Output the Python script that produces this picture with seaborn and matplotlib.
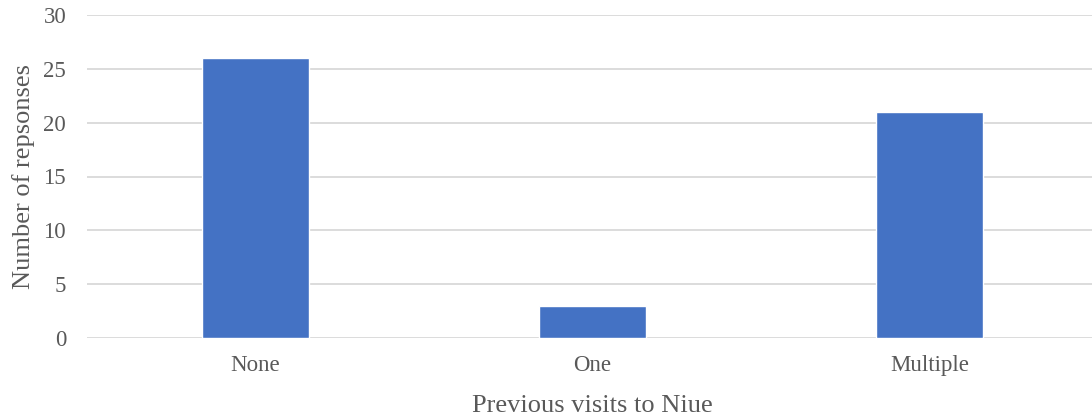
import pandas as pd
import matplotlib
matplotlib.use("Agg")
import matplotlib.pyplot as plt
import seaborn as sns

# chart values
visits = ["None", "One", "Multiple"]
responses = [26, 3, 21]

df = pd.DataFrame({"visits": visits, "responses": responses})

sns.set_style("white")
plt.rcParams['font.family'] = ['Liberation Serif', 'DejaVu Serif']

fig = plt.figure(figsize=(10.92, 4.18), dpi=100)
ax = fig.add_axes([87/1092, 80/418, 1011/1092, 323/418])

sns.barplot(data=df, x="visits", y="responses", color="#4472C4",
            saturation=1, width=0.315, ax=ax, zorder=3)

ax.set_ylim(0, 30)
ax.set_yticks(range(0, 31, 5))
ax.yaxis.grid(True, color="#d9d9d9", linewidth=1.3, zorder=0)
ax.set_axisbelow(True)
for s in ["top", "right", "left", "bottom"]:
    ax.spines[s].set_visible(False)
ax.tick_params(axis="both", length=0, labelsize=16.5, colors="#595959")
ax.tick_params(axis="y", pad=15)
ax.tick_params(axis="x", pad=12)
ax.set_xlabel("Previous visits to Niue", fontsize=19, color="#595959", labelpad=14)
ax.set_ylabel("Number of repsonses", fontsize=19, color="#595959", labelpad=6)

fig.savefig("out.png", dpi=100)
